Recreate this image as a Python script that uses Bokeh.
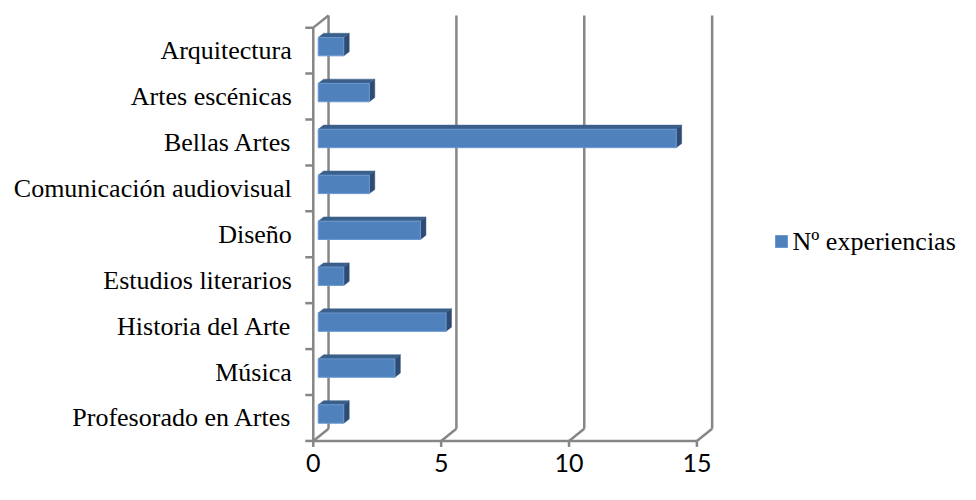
from bokeh.plotting import figure
from bokeh.models import Range1d, ColumnDataSource
from bokeh.core.properties import value
from bokeh.embed import file_html
from bokeh.resources import INLINE

# ---- data ----
categories = ["Profesorado en Artes", "Música", "Historia del Arte", "Estudios literarios",
              "Diseño", "Comunicación audiovisual", "Bellas Artes", "Artes escénicas", "Arquitectura"]
values = [1, 3, 5, 1, 4, 2, 14, 2, 1]
x_ticks = [0, 5, 10, 15]
series_name = "Nº experiencias"

SERIF = "'Liberation Serif', 'Times New Roman', Times, serif"

# ---- geometry (pixels per data unit, 3D depth) ----
W, H = 960, 484
SX, SY = W / 976.0, H / 500.0
PX_X = 26.0 * SX
PX_Y = 47.44 * SY
DX, DY = 15.5 * SX / PX_X, 12.5 * SY / PX_Y      # wall depth
OX, OY = 5.0 * SX / PX_X, 4.1 * SY / PX_Y        # bar front offset
BDX, BDY = 5.5 * SX / PX_X, 4.3 * SY / PX_Y      # bar depth
HALF = 9.5 * SY / PX_Y                           # half bar height

FL, FB = 318 * SX, 455 * SY                      # pixel position of x=0 and of y=-0.5

n = len(categories)
y_lo, y_hi = -0.5, n - 0.5


def dx_of(px):
    return (px - FL) / PX_X


def dy_of(py):
    return y_lo + (FB - py) / PX_Y


p = figure(width=W, height=H, output_backend="svg", toolbar_location=None,
           x_range=Range1d(dx_of(0), dx_of(W)),
           y_range=Range1d(dy_of(H), dy_of(0)),
           min_border=0, x_axis_type=None, y_axis_type=None)
p.outline_line_color = None
p.grid.visible = False
p.background_fill_color = "white"

GRAY = "#868686"
LW = 2.5

# back wall verticals + floor diagonals
p.segment(x0=[v + DX for v in x_ticks], y0=[y_lo + DY] * len(x_ticks),
          x1=[v + DX for v in x_ticks], y1=[y_hi + DY] * len(x_ticks),
          line_color=GRAY, line_width=LW)
p.segment(x0=x_ticks, y0=[y_lo] * len(x_ticks),
          x1=[v + DX for v in x_ticks], y1=[y_lo + DY] * len(x_ticks),
          line_color=GRAY, line_width=LW)
# top-left wall diagonal
p.segment(x0=[0], y0=[y_hi], x1=[DX], y1=[y_hi + DY], line_color=GRAY, line_width=LW)
# front axes
p.segment(x0=[0], y0=[y_lo], x1=[0], y1=[y_hi], line_color=GRAY, line_width=LW)
p.segment(x0=[x_ticks[0]], y0=[y_lo], x1=[x_ticks[-1]], y1=[y_lo], line_color=GRAY, line_width=LW)
# ticks
p.segment(x0=x_ticks, y0=[y_lo] * len(x_ticks), x1=x_ticks,
          y1=[y_lo - 6 / PX_Y] * len(x_ticks), line_color=GRAY, line_width=LW)
bounds = [i - 0.5 for i in range(n + 1)]
p.segment(x0=[0] * len(bounds), y0=bounds, x1=[-8 / PX_X] * len(bounds), y1=bounds,
          line_color=GRAY, line_width=LW)

# bars (3D boxes)
idx = list(range(n))
left = [OX] * n
right = [v + OX for v in values]
bottom = [i - HALF + OY for i in idx]
top = [i + HALF + OY for i in idx]

side_xs = [[r, r, r + BDX, r + BDX] for r in right]
side_ys = [[b, t, t + BDY, b + BDY] for b, t in zip(bottom, top)]
top_xs = [[l, r, r + BDX, l + BDX] for l, r in zip(left, right)]
top_ys = [[t, t, t + BDY, t + BDY] for t in top]
p.patches(side_xs, side_ys, fill_color="#2E4B73", line_color="#2E4B73", line_width=0.5)
p.patches(top_xs, top_ys, fill_color="#3A5F8B", line_color="#3A5F8B", line_width=0.5)
p.quad(left=left, right=right, bottom=bottom, top=top,
       fill_color="#4F81BD", line_color="#6A98CF", line_width=1)

# category labels
src = ColumnDataSource(dict(x=[0] * n, y=idx, t=categories))
p.text(x="x", y="y", text="t", source=src, x_offset=-21.5, text_align="right",
       text_baseline="middle", text_font=value(SERIF),
       text_font_size="26px", text_color="black")
# value tick labels
p.text(x=x_ticks, y=[y_lo] * len(x_ticks), text=[str(v) for v in x_ticks], y_offset=13,
       text_align="center", text_baseline="top", text_font=value("Lato"),
       text_font_size="25px", text_color="black")

# legend (drawn in screen layout to the right of the plot area)
p.scatter(x=[dx_of(781)], y=[dy_of(241)], marker="square", size=12,
          fill_color="#4F81BD", line_color="#6A98CF", line_width=1)
p.text(x=[dx_of(792)], y=[dy_of(241)], text=[series_name], text_align="left",
       text_baseline="middle", text_font=value(SERIF),
       text_font_size="26px", text_color="black")

open("out.html", "w").write(file_html(p, INLINE))
